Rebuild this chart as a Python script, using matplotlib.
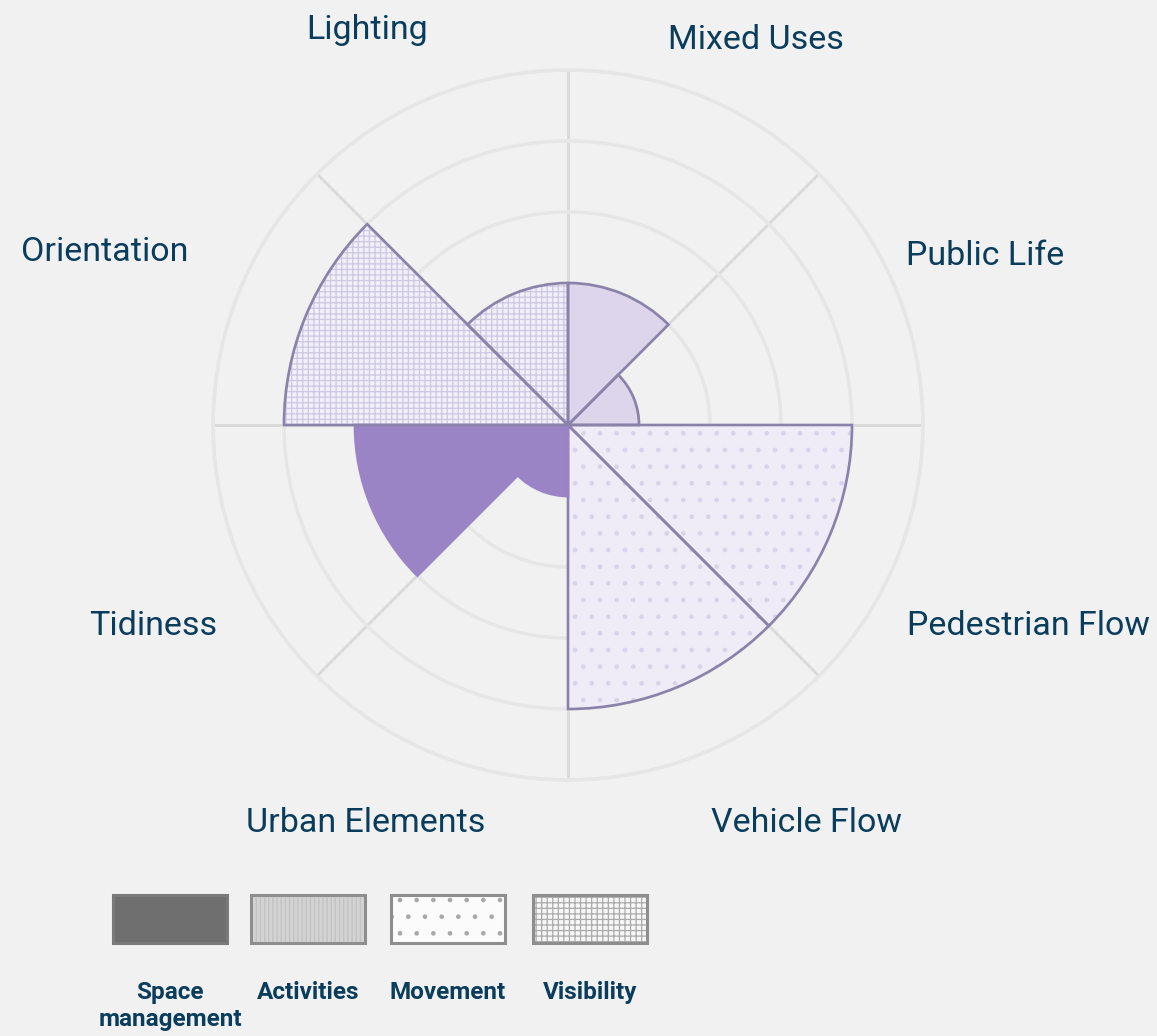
import numpy as np
import matplotlib
matplotlib.use("Agg")
import matplotlib.pyplot as plt
from matplotlib.patches import Rectangle

# ---------------- data ----------------
categories = ["Mixed Uses", "Public Life", "Pedestrian Flow", "Vehicle Flow",
              "Urban Elements", "Tidiness", "Orientation", "Lighting"]
values = [2, 1, 4, 4, 1, 3, 4, 2]
groups = ["Activities", "Activities", "Movement", "Movement",
          "Space management", "Space management", "Visibility", "Visibility"]
legend_keys = ["Space management", "Activities", "Movement", "Visibility"]
legend_labels = ["Space\nmanagement", "Activities", "Movement", "Visibility"]
r_ticks = [1, 2, 3, 4, 5]
r_max = 5

# ---------------- styles / layout ----------------
W, H = 1157, 1036
BG = "#F1F1F1"
TXT = "#0A3D5C"
EDGE = "#8A82A8"
styles = {
    "Space management": dict(face="#9B84C6", hatch=None, hcol="#9B84C6", edge="#9B84C6"),
    "Activities": dict(face="#DCD5EB", hatch=None, hcol="#DCD5EB", edge=EDGE),
    "Movement": dict(face="#EFECF8", hatch=".", hcol="#D8D3E8", edge=EDGE),
    "Visibility": dict(face="#F1EFF9", hatch="+++", hcol="#CEC8E0", edge=EDGE),
}
legend_styles = {
    "Space management": dict(face="#6F6F6F", hatch=None, hcol="#6F6F6F", edge="#7A7A7A"),
    "Activities": dict(face="#D3D3D3", hatch="||||", hcol="#C2C2C2", edge="#8E8E8E"),
    "Movement": dict(face="#FBFBFB", hatch=".", hcol="#A8A8A8", edge="#8E8E8E"),
    "Visibility": dict(face="#F6F6F6", hatch="+++", hcol="#ABABAB", edge="#8E8E8E"),
}
# label anchor (pixel x, baseline pixel y)
label_px = [(756, 49), (985, 265), (1028, 635), (806, 832),
            (366, 832), (153, 635), (105, 261), (367, 39)]
center_px = (568, 425)
radius_px = 355
legend_x = [113, 251, 391, 533]
legend_w, legend_h, legend_y = 114, 48, 895

plt.rcParams["font.family"] = ["Roboto", "DejaVu Sans"]
plt.rcParams["hatch.linewidth"] = 0.9

fig = plt.figure(figsize=(W / 100, H / 100), dpi=100, facecolor=BG)

cx, cy = center_px
ax = fig.add_axes([(cx - radius_px) / W, (H - cy - radius_px) / H,
                   2 * radius_px / W, 2 * radius_px / H], projection="polar")
ax.set_facecolor("none")
ax.set_theta_zero_location("N")
ax.set_theta_direction(-1)
ax.set_ylim(0, r_max)
ax.set_axisbelow(True)

n = len(categories)
step = 2 * np.pi / n
theta = np.arange(n) * step + step / 2

for i in range(n):
    st = styles[groups[i]]
    ax.bar(theta[i], values[i], width=step, align="center",
           color=st["face"], edgecolor=st["hcol"], hatch=st["hatch"],
           linewidth=0, zorder=2)
for i in range(n):
    st = styles[groups[i]]
    ax.bar(theta[i], values[i], width=step, align="center",
           fill=False, edgecolor=st["edge"], linewidth=1.9, zorder=3)

ax.set_xticks(np.arange(n) * step)
ax.set_xticklabels([])
ax.set_yticks(r_ticks)
ax.set_yticklabels([])
ax.tick_params(length=0)
ax.xaxis.grid(True, color="#D9D9D9", linewidth=2.0)
ax.yaxis.grid(True, color="#E6E6E6", linewidth=2.5)
ax.spines["polar"].set_color("#E6E6E6")
ax.spines["polar"].set_linewidth(2.5)

for lab, (px, py) in zip(categories, label_px):
    fig.text(px / W, 1 - py / H, lab, ha="center", va="baseline",
             fontsize=24.5, color=TXT)

# ---------------- legend ----------------
lax = fig.add_axes([0, 0, 1, 1])
lax.set_xlim(0, W)
lax.set_ylim(H, 0)
lax.axis("off")
for key, lab, x0 in zip(legend_keys, legend_labels, legend_x):
    st = legend_styles[key]
    lax.add_patch(Rectangle((x0, legend_y), legend_w, legend_h,
                            facecolor=st["face"], edgecolor=st["hcol"],
                            hatch=st["hatch"], linewidth=0))
    lax.add_patch(Rectangle((x0, legend_y), legend_w, legend_h,
                            fill=False, edgecolor=st["edge"], linewidth=2.2))
    lax.text(x0 + legend_w / 2, 981, lab, ha="center", va="top",
             fontsize=17.5, fontweight="bold", color=TXT, linespacing=1.2)

fig.savefig("out.png", dpi=100, facecolor=BG)
